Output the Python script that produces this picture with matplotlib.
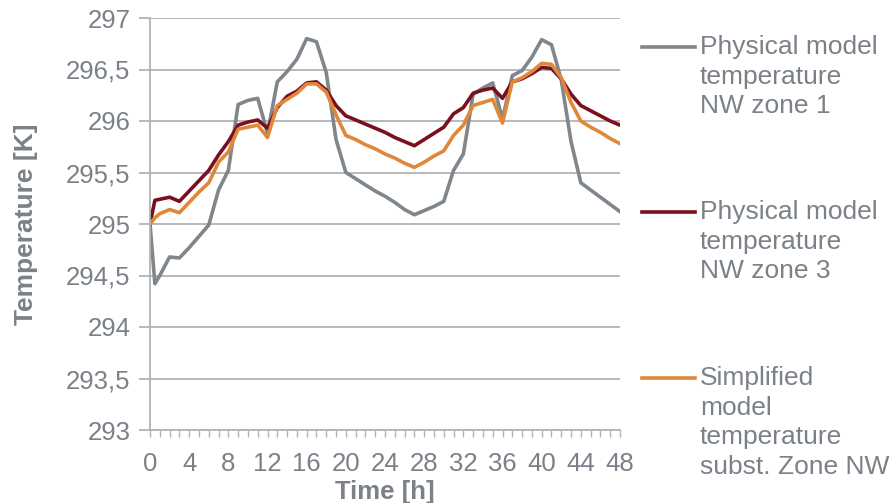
import matplotlib
matplotlib.use("Agg")
import matplotlib.pyplot as plt
from matplotlib.lines import Line2D
from matplotlib.ticker import FuncFormatter, MultipleLocator

plt.rcParams['font.family'] = ['Liberation Sans', 'DejaVu Sans']

# time axis [h]
hours = [0, 0.5] + list(range(1, 49))

# Physical model temperature NW zone 1
zone1 = [295.0, 294.42, 294.5, 294.68, 294.67, 294.77, 294.88, 294.99, 295.33, 295.52,
         296.16, 296.2, 296.22, 295.88, 296.38, 296.48, 296.6, 296.8, 296.77, 296.47,
         295.82, 295.5, 295.44, 295.38, 295.32, 295.27, 295.21, 295.14, 295.09, 295.13,
         295.17, 295.22, 295.52, 295.68, 296.26, 296.32, 296.37, 296.02, 296.44, 296.49,
         296.62, 296.79, 296.74, 296.4, 295.8, 295.4, 295.33, 295.26, 295.19, 295.12]

# Physical model temperature NW zone 3
zone3 = [295.0, 295.23, 295.24, 295.26, 295.22, 295.32, 295.42, 295.52, 295.67, 295.8,
         295.96, 295.99, 296.01, 295.93, 296.13, 296.24, 296.29, 296.37, 296.38, 296.3,
         296.15, 296.05, 296.01, 295.97, 295.93, 295.89, 295.84, 295.8, 295.76, 295.82,
         295.88, 295.94, 296.07, 296.13, 296.27, 296.3, 296.32, 296.22, 296.38, 296.41,
         296.46, 296.52, 296.51, 296.41, 296.26, 296.15, 296.1, 296.05, 296.0, 295.96]

# Simplified model temperature subst. zone NW
simplified = [295.0, 295.06, 295.1, 295.14, 295.11, 295.21, 295.31, 295.4, 295.6, 295.7,
              295.92, 295.94, 295.96, 295.84, 296.15, 296.21, 296.27, 296.36, 296.36, 296.28,
              296.06, 295.86, 295.82, 295.77, 295.73, 295.68, 295.64, 295.59, 295.55, 295.6,
              295.66, 295.71, 295.86, 295.96, 296.15, 296.18, 296.21, 295.98, 296.38, 296.42,
              296.48, 296.56, 296.55, 296.42, 296.18, 296.0, 295.94, 295.89, 295.83, 295.78]

labels = ["Physical model\ntemperature\nNW zone 1",
          "Physical model\ntemperature\nNW zone 3",
          "Simplified\nmodel\ntemperature\nsubst. Zone NW"]
colors = ["#7f868c", "#7a0f1e", "#e0873a"]

txt = "#7b8188"
grid = "#b3b3b3"

fig = plt.figure(figsize=(8.94, 5.03), dpi=100)
ax = fig.add_axes([150 / 894, 73 / 503, 470 / 894, 412 / 503])

for ys, c in zip([zone1, zone3, simplified], colors):
    ax.plot(hours, ys, color=c, lw=2.6, solid_joinstyle='round')

ax.set_xlim(0, 48)
ax.set_ylim(293, 297)
ax.set_xticks(range(0, 49, 4))
ax.xaxis.set_minor_locator(MultipleLocator(1))
ax.yaxis.set_major_locator(MultipleLocator(0.5))
ax.yaxis.set_major_formatter(FuncFormatter(lambda v, p: f"{v:g}".replace('.', ',')))
ax.grid(axis='y', color=grid, lw=1.3)
ax.set_axisbelow(True)
for s in ['top', 'right']:
    ax.spines[s].set_visible(False)
for s in ['left', 'bottom']:
    ax.spines[s].set_color(grid)
    ax.spines[s].set_linewidth(1.3)
ax.tick_params(axis='y', length=8, color=grid, width=1.3, labelsize=18.5, labelcolor=txt, pad=6)
ax.tick_params(axis='x', which='major', length=5, color=grid, width=1.0,
               labelsize=18.5, labelcolor=txt, pad=11)
ax.tick_params(axis='x', which='minor', length=5, color=grid, width=1.0)

ax.set_xlabel("Time [h]", fontsize=18.5, fontweight='bold', color=txt, labelpad=3)
ax.set_ylabel("Temperature [K]", fontsize=19, fontweight='bold', color=txt, labelpad=20)

# legend drawn by hand so the line sample sits at the first text line
tops = [47, 212, 378]
for lab, c, y in zip(labels, colors, tops):
    yf = 1 - y / 503
    fig.add_artist(Line2D([642 / 894, 695 / 894], [yf, yf], color=c, lw=2.6,
                          transform=fig.transFigure))
    fig.text(700 / 894, yf + 12 / 503, lab, fontsize=19, color=txt, va='top',
             ha='left', linespacing=1.3)

fig.savefig("out.png", dpi=100)
